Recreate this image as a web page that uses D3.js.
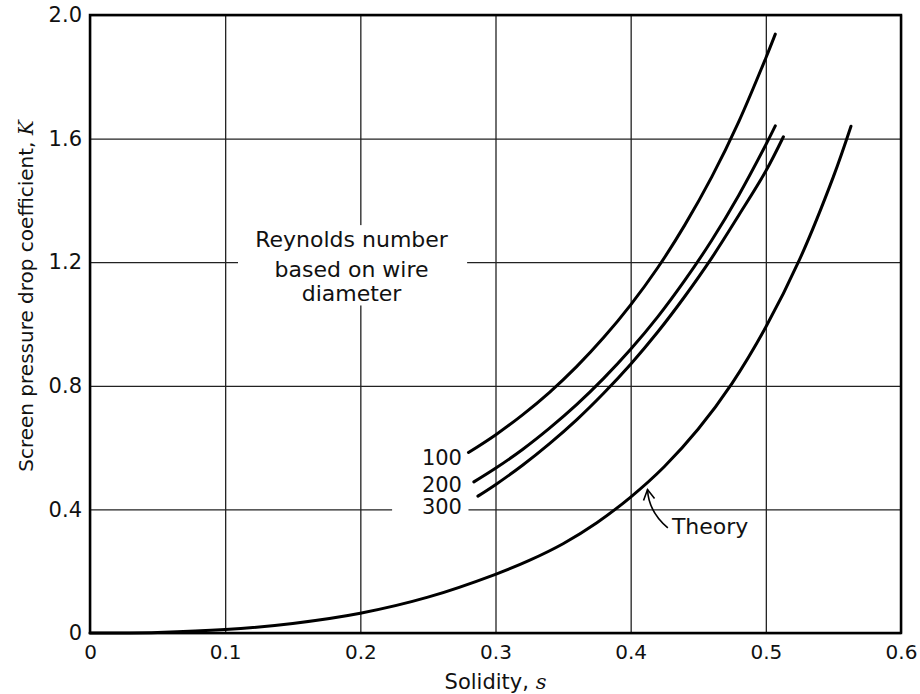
<!DOCTYPE html>
<html>
<head>
<meta charset="utf-8">
<script src="https://cdn.jsdelivr.net/npm/d3@7/dist/d3.min.js"></script>
<style>
  html, body { margin: 0; padding: 0; background: #fff; }
  svg { display: block; }
  text { font-family: "DejaVu Sans", sans-serif; fill: #111; }
</style>
</head>
<body>
<svg id="chart" width="920" height="694"></svg>
<script>
// Axis ticks
const xTicks = [0, 0.1, 0.2, 0.3, 0.4, 0.5, 0.6];
const xTickLabels = ["0", "0.1", "0.2", "0.3", "0.4", "0.5", "0.6"];
const yTicks = [0, 0.4, 0.8, 1.2, 1.6, 2.0];
const yTickLabels = ["0", "0.4", "0.8", "1.2", "1.6", "2.0"];

// Measured curves: [solidity s, pressure drop coefficient K]
const re100 = [[0.280, 0.584], [0.30, 0.641], [0.32, 0.706], [0.34, 0.779], [0.36, 0.862], [0.38, 0.956], [0.40, 1.062], [0.42, 1.182], [0.44, 1.320], [0.46, 1.476], [0.48, 1.655], [0.50, 1.861], [0.507, 1.938]];
const re200 = [[0.284, 0.489], [0.30, 0.533], [0.32, 0.594], [0.34, 0.663], [0.36, 0.739], [0.38, 0.824], [0.40, 0.918], [0.42, 1.023], [0.44, 1.141], [0.46, 1.271], [0.48, 1.417], [0.50, 1.580], [0.507, 1.641]];
const re300 = [[0.287, 0.443], [0.30, 0.480], [0.32, 0.543], [0.34, 0.613], [0.36, 0.690], [0.38, 0.776], [0.40, 0.870], [0.42, 0.974], [0.44, 1.089], [0.46, 1.214], [0.48, 1.352], [0.50, 1.495], [0.513, 1.606]];
const theory = [[0, 0], [0.05, 0.002], [0.10, 0.011], [0.15, 0.031], [0.20, 0.064], [0.25, 0.116], [0.30, 0.190], [0.325, 0.235], [0.35, 0.289], [0.375, 0.357], [0.40, 0.440], [0.425, 0.539], [0.45, 0.660], [0.475, 0.808], [0.50, 0.990], [0.525, 1.209], [0.55, 1.477], [0.563, 1.640]];

const seriesNames = ["100", "200", "300"];
const annotationLines = ["Reynolds number", "based on wire", "diameter"];

const margin = { left: 90, right: 19, top: 15, bottom: 61 };
const W = 920, H = 694;
const svg = d3.select("#chart");

const x = d3.scaleLinear().domain([0, 0.6]).range([margin.left, W - margin.right]);
const y = d3.scaleLinear().domain([0, 2.0]).range([H - margin.bottom, margin.top]);

// Grid lines
const grid = svg.append("g").attr("class", "grid");
grid.append("g")
  .attr("transform", `translate(0,${y(0)})`)
  .call(d3.axisBottom(x).tickValues(xTicks).tickSize(-(y(0) - y(2))).tickFormat(""))
  .call(g => g.select(".domain").remove())
  .call(g => g.selectAll("line").attr("stroke", "#222").attr("stroke-width", 1.3));
grid.append("g")
  .attr("transform", `translate(${x(0)},0)`)
  .call(d3.axisLeft(y).tickValues(yTicks).tickSize(-(x(0.6) - x(0))).tickFormat(""))
  .call(g => g.select(".domain").remove())
  .call(g => g.selectAll("line").attr("stroke", "#222").attr("stroke-width", 1.3));

// Clear the grid behind the labels
svg.append("rect").attr("x", x(0.1095)).attr("y", y(1.32)).attr("width", x(0.279) - x(0.1095)).attr("height", y(1.06) - y(1.32)).attr("fill", "#fff");
svg.append("rect").attr("x", x(0.2235)).attr("y", y(0.62)).attr("width", x(0.28) - x(0.2235)).attr("height", y(0.33) - y(0.62)).attr("fill", "#fff");

// Tick labels
const xAxis = svg.append("g")
  .attr("transform", `translate(0,${y(0)})`)
  .call(d3.axisBottom(x).tickValues(xTicks).tickSize(0).tickPadding(10).tickFormat((d, i) => xTickLabels[i]));
xAxis.select(".domain").remove();
xAxis.selectAll("text").attr("font-size", 20).attr("font-family", "DejaVu Sans").attr("fill", "#111").attr("dy", "0.8em");

const yAxis = svg.append("g")
  .attr("transform", `translate(${x(0)},0)`)
  .call(d3.axisLeft(y).tickValues(yTicks).tickSize(0).tickPadding(8).tickFormat((d, i) => yTickLabels[i]));
yAxis.select(".domain").remove();
yAxis.selectAll("text").attr("font-size", 21).attr("font-family", "DejaVu Sans").attr("fill", "#111");

// Curves
const line = d3.line().x(d => x(d[0])).y(d => y(d[1])).curve(d3.curveCatmullRom.alpha(0.5));
[re100, re200, re300, theory].forEach(data => {
  svg.append("path")
    .datum(data)
    .attr("d", line)
    .attr("fill", "none")
    .attr("stroke", "#000")
    .attr("stroke-width", 3)
    .attr("stroke-linecap", "round");
});

// Frame
svg.append("rect")
  .attr("x", x(0)).attr("y", y(2))
  .attr("width", x(0.6) - x(0)).attr("height", y(0) - y(2))
  .attr("fill", "none").attr("stroke", "#000").attr("stroke-width", 2.5);

// Reynolds number labels next to the start of each curve
const labelK = [0.544, 0.456, 0.385];
seriesNames.forEach((name, i) => {
  svg.append("text")
    .attr("x", x(0.2752))
    .attr("y", y(labelK[i]))
    .attr("text-anchor", "end")
    .attr("font-size", 21)
    .text(name);
});

// Annotation block
const annBaselines = [247, 277, 301];
const ann = svg.append("text").attr("text-anchor", "middle").attr("font-size", 22);
annotationLines.forEach((t, i) => {
  ann.append("tspan").attr("x", x(0.1935)).attr("y", annBaselines[i]).text(t);
});

// Theory label with arrow
svg.append("text").attr("x", x(0.4305)).attr("y", y(0.32)).attr("font-size", 22).text("Theory");
const tipS = 0.411;
const tipK = d3.scaleLinear().domain(theory.map(d => d[0])).range(theory.map(d => d[1]))(tipS);
const tx = x(tipS) + 2, ty = y(tipK) + 6;
svg.append("path")
  .attr("d", `M${x(0.4275)},${y(0.34)} Q${tx + 1},${ty + 22} ${tx},${ty}`)
  .attr("fill", "none").attr("stroke", "#000").attr("stroke-width", 1.6);
svg.append("path")
  .attr("d", `M${tx - 4},${ty + 11} L${tx},${ty} L${tx + 7},${ty + 9}`)
  .attr("fill", "none").attr("stroke", "#000").attr("stroke-width", 1.6);

// Axis titles
svg.append("text")
  .attr("x", (x(0) + x(0.6)) / 2).attr("y", 689)
  .attr("text-anchor", "middle").attr("font-size", 21)
  .text("Solidity, ")
  .append("tspan").attr("font-style", "italic").attr("font-family", "DejaVu Serif").text("s");
svg.append("text")
  .attr("transform", `translate(33,296) rotate(-90)`)
  .attr("text-anchor", "middle").attr("font-size", 20)
  .text("Screen pressure drop coefficient, ")
  .append("tspan").attr("font-style", "italic").attr("font-family", "DejaVu Serif").text("K");
</script>
</body>
</html>
